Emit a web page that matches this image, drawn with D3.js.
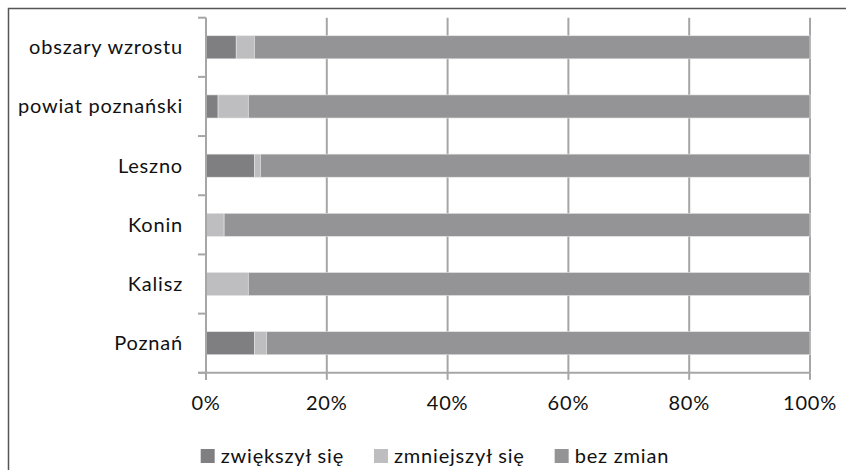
<!DOCTYPE html>
<html><head><meta charset="utf-8">
<script src="https://cdn.jsdelivr.net/npm/d3@7"></script>
<style>body{margin:0;background:#fff;} text{font-family:Lato, "Open Sans", sans-serif; fill:#111; letter-spacing:0.8px;}</style>
</head><body>
<svg id="c" width="846" height="470"></svg>
<script>
const categories = ["obszary wzrostu","powiat poznański","Leszno","Konin","Kalisz","Poznań"];
const seriesNames = ["zwiększył się","zmniejszył się","bez zmian"];
const increased = [5,2,8,0,0,8];
const decreased = [3,5,1,3,7,2];
const unchanged = [92,93,91,97,93,90];
const tickValues = [0,20,40,60,80,100];
const colors = ["#7f7f82","#bebec1","#949497"];

const svg = d3.select("#c");
svg.append("rect").attr("x",8.5).attr("y",8.5).attr("width",900).attr("height",900)
  .attr("fill","none").attr("stroke","#555").attr("stroke-width",1.5);

const m = {l:206, r:810, t:17.7, b:372.8};
const x = d3.scaleLinear().domain([0,100]).range([m.l,m.r]);
const y = d3.scaleBand().domain(categories).range([m.t,m.b]).paddingInner(0.61).paddingOuter(0.305);

// gridlines
svg.append("g").selectAll("line").data(tickValues.slice(1)).join("line")
  .attr("x1",d=>x(d)).attr("x2",d=>x(d)).attr("y1",m.t).attr("y2",m.b)
  .attr("stroke","#a6a6a6").attr("stroke-width",2);

const data = categories.map((c,i)=>({cat:c, increased:increased[i], decreased:decreased[i], unchanged:unchanged[i]}));
const stack = d3.stack().keys(["increased","decreased","unchanged"])(data);
svg.append("g").selectAll("g").data(stack).join("g").attr("fill",(d,i)=>colors[i])
  .selectAll("rect").data(d=>d).join("rect")
  .attr("x",d=>x(d[0])).attr("width",d=>x(d[1])-x(d[0]))
  .attr("y",d=>y(d.data.cat)).attr("height",y.bandwidth())
  .attr("stroke","#e6e6e6").attr("stroke-width",0.6);

// y axis
const step = y.step();
const yTicks = d3.range(categories.length+1).map(i=>m.t+i*step);
svg.append("g").selectAll("line").data(yTicks).join("line")
  .attr("x1",198).attr("x2",m.l).attr("y1",d=>d).attr("y2",d=>d)
  .attr("stroke","#a6a6a6").attr("stroke-width",2);
svg.append("line").attr("x1",m.l).attr("x2",m.l).attr("y1",m.t).attr("y2",m.b+7)
  .attr("stroke","#a6a6a6").attr("stroke-width",2);
// x axis line
svg.append("line").attr("x1",m.l-8).attr("x2",m.r).attr("y1",m.b).attr("y2",m.b)
  .attr("stroke","#a6a6a6").attr("stroke-width",2);
svg.append("g").selectAll("line").data(tickValues).join("line")
  .attr("x1",d=>x(d)).attr("x2",d=>x(d)).attr("y1",m.b).attr("y2",m.b+7)
  .attr("stroke","#a6a6a6").attr("stroke-width",2);

svg.append("g").selectAll("text").data(categories).join("text")
  .attr("x",183).attr("y",d=>y(d)+y.bandwidth()/2).attr("dy","0.35em")
  .attr("text-anchor","end").attr("font-size",20).text(d=>d);

svg.append("g").selectAll("text").data(tickValues).join("text")
  .attr("x",d=>x(d)).attr("y",410).attr("text-anchor","middle").attr("font-size",20)
  .text(d=>d+"%");

// legend
let lx = 200.7;
const lg = svg.append("g");
seriesNames.forEach((s,i)=>{
  lg.append("rect").attr("x",lx).attr("y",449).attr("width",14).attr("height",14).attr("fill",colors[i]);
  const t = lg.append("text").attr("x",lx+20).attr("y",463).attr("font-size",20).text(s);
  lx += 20 + t.node().getComputedTextLength() + 30;
});
</script>
</body></html>
